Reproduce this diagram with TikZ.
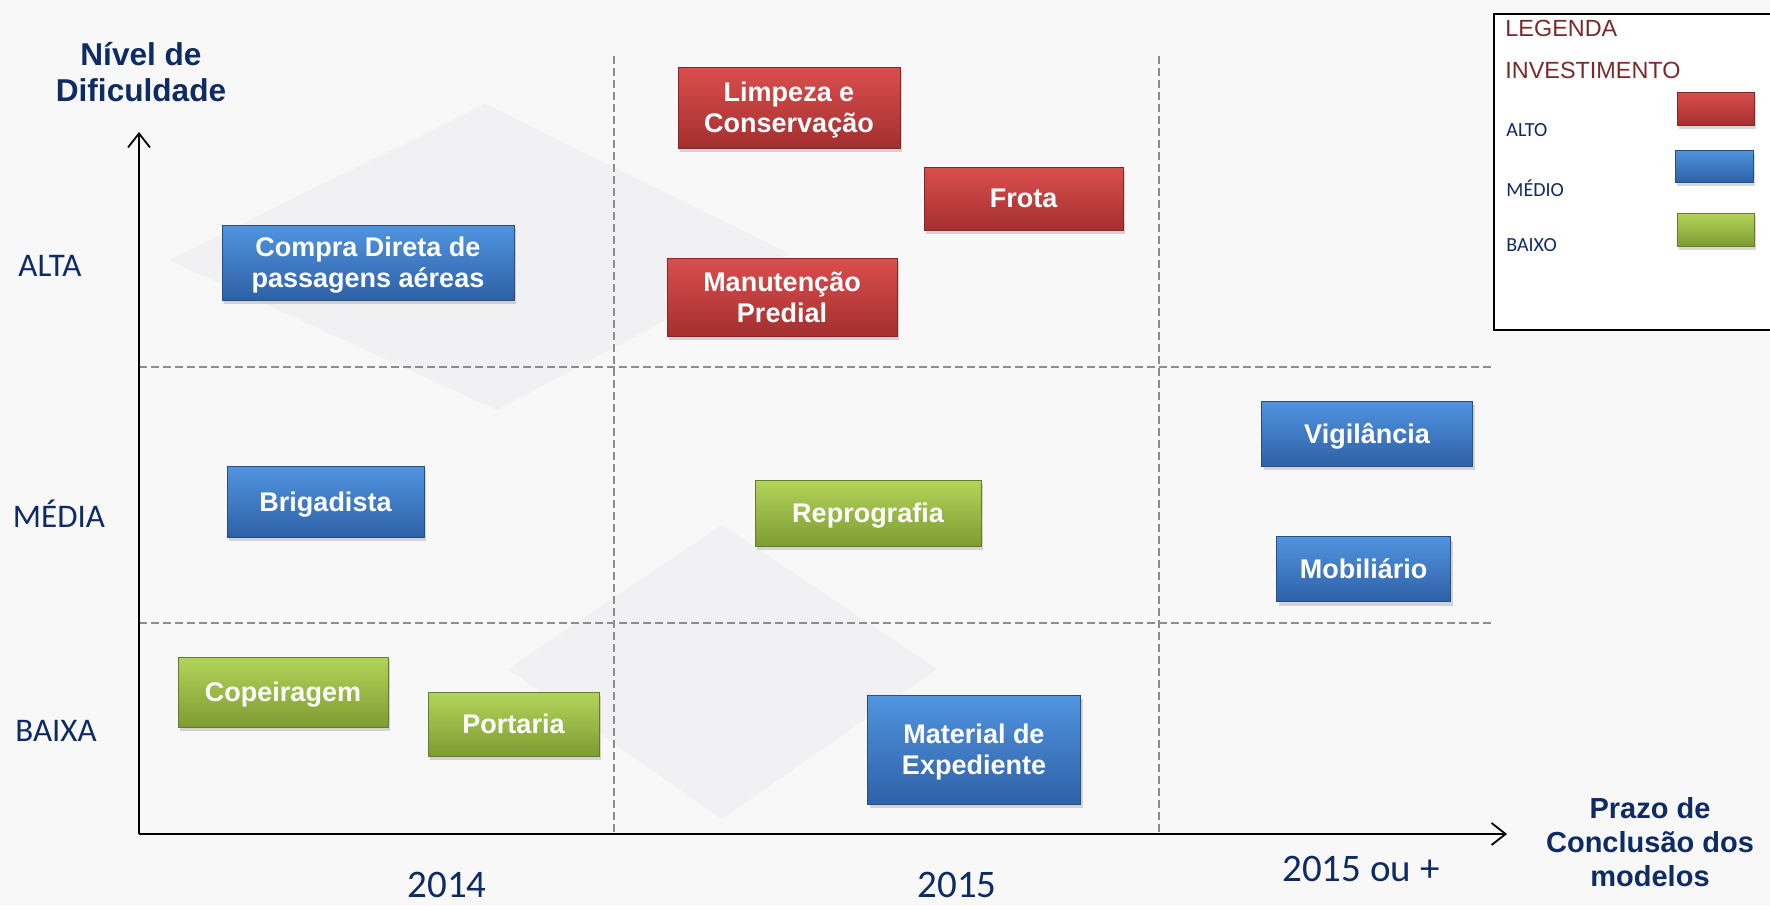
\documentclass[tikz,border=0pt]{standalone}
\usepackage{fontspec}
\setmainfont{Liberation Sans}
\newfontfamily\calibri{Carlito}
\usetikzlibrary{arrows.meta,shadows}

\definecolor{fundo}{HTML}{F8F8F9}
\definecolor{losango}{HTML}{F1F1F3}
\definecolor{marinho}{HTML}{0E2B63}
\definecolor{vinho}{HTML}{7A2A2A}
\definecolor{grade}{HTML}{8C8C8C}
\definecolor{vermA}{HTML}{DA4E4E}
\definecolor{vermB}{HTML}{C43C3C}
\definecolor{vermC}{HTML}{A52F2F}
\definecolor{azulA}{HTML}{5194E0}
\definecolor{azulB}{HTML}{3D7BCB}
\definecolor{azulC}{HTML}{2E61A6}
\definecolor{verdeA}{HTML}{B3D45A}
\definecolor{verdeB}{HTML}{9BBE45}
\definecolor{verdeC}{HTML}{7E9C33}

\begin{document}
\begin{tikzpicture}[
  x=0.5pt, y=-0.5pt,
  caixa/.style={rectangle, inner sep=0pt, align=center, text=white, text depth=0pt,
    font=\bfseries\fontsize{13.5}{15.5}\selectfont, line width=0.4pt,
    drop shadow={opacity=0.3, shadow xshift=1pt, shadow yshift=-2pt}},
  alto/.style={caixa, draw=vermC!80!black,
    top color=vermA, middle color=vermB, bottom color=vermC},
  medio/.style={caixa, draw=azulC!80!black,
    top color=azulA, middle color=azulB, bottom color=azulC},
  baixo/.style={caixa, draw=verdeC!80!black,
    top color=verdeA, middle color=verdeB, bottom color=verdeC},
  eixo/.style={line width=0.9pt, -{Straight Barb[length=7pt,width=11pt]}},
  corte/.style={draw=grade, line width=0.6pt, dash pattern=on 4pt off 2pt},
  nivel/.style={text=marinho, font=\calibri\fontsize{16.5}{18}\selectfont},
  ano/.style={text=marinho, font=\calibri\fontsize{19.5}{21}\selectfont},
  titulo/.style={text=marinho, align=center, font=\bfseries\fontsize{15.8}{18}\selectfont},
  leg/.style={anchor=west, inner sep=0pt}
]
\useasboundingbox (0,0) rectangle (1770,905);
\fill[fundo] (0,0) rectangle (1770,905);
% faint diamonds in the background
\fill[losango] (485,104) -- (790,254) -- (497,410) -- (169,260) -- cycle;
\fill[losango] (722,525) -- (937,669) -- (722,819) -- (508,669) -- cycle;

% grid
\draw[corte] (614,56) -- (614,834);
\draw[corte] (1159,56) -- (1159,834);
\draw[corte] (139,367) -- (1493,367);
\draw[corte] (139,623) -- (1493,623);

% axes
\coordinate (origem) at (139,834);
\coordinate (ytopo) at (139,132);
\coordinate (xfim) at (1507,834);
\draw[eixo] (origem) -- (ytopo);
\draw[eixo] (origem) -- (xfim);

\node[titulo] (dificuldade) at (141,72) {Nível de\\Dificuldade};
\node[titulo, font=\bfseries\fontsize{14.5}{17}\selectfont] (prazo) at (1650,842) {Prazo de\\Conclusão dos\\modelos};

\node[nivel] (alta) at (50,266) {ALTA};
\node[nivel] (media) at (59,514) {MÉDIA};
\node[nivel] (baixa) at (56,731) {BAIXA};
\node[ano] (a2014) at (447,885) {2014};
\node[ano] (a2015) at (957,885) {2015};
\node[ano] (a2016) at (1361,869) {2015 ou +};

% items
\node[medio, minimum width=146pt, minimum height=37.5pt] (compra) at (368,262.5) {Compra Direta de\\passagens aéreas};
\node[alto, minimum width=111pt, minimum height=40.5pt] (limpeza) at (789,107.5) {Limpeza e\\Conservação};
\node[alto, minimum width=99.5pt, minimum height=31.5pt] (frota) at (1023.5,198.5) {Frota};
\node[alto, minimum width=115pt, minimum height=39pt] (manutencao) at (782,297) {Manutenção\\Predial};
\node[medio, minimum width=98.5pt, minimum height=35.5pt] (brigadista) at (325.5,501.5) {Brigadista};
\node[baixo, minimum width=113pt, minimum height=33pt] (reprografia) at (868,513) {Reprografia};
\node[medio, minimum width=105.5pt, minimum height=32.5pt] (vigilancia) at (1367,433.5) {Vigilância};
\node[medio, minimum width=87pt, minimum height=32.5pt] (mobiliario) at (1363.5,569) {Mobiliário};
\node[baixo, minimum width=105pt, minimum height=35pt] (copeiragem) at (283,692) {Copeiragem};
\node[baixo, minimum width=85.5pt, minimum height=32pt] (portaria) at (513.5,724) {Portaria};
\node[medio, minimum width=106.5pt, minimum height=54.5pt] (material) at (974,749.5) {Material de\\Expediente};

% legend
\draw[line width=0.9pt, fill=white] (1494,14) rectangle (1800,330);
\node[leg, text=vinho, font=\fontsize{11.7}{13}\selectfont] (legenda) at (1505,28) {LEGENDA};
\node[leg, text=vinho, font=\fontsize{11.7}{13}\selectfont] (investimento) at (1505,70) {INVESTIMENTO};
\node[leg, text=marinho, font=\calibri\fontsize{10}{12}\selectfont] (lalto) at (1506,130) {ALTO};
\node[leg, text=marinho, font=\calibri\fontsize{10}{12}\selectfont] (lmedio) at (1506,188) {MÉDIO};
\node[leg, text=marinho, font=\calibri\fontsize{10}{12}\selectfont] (lbaixo) at (1506,245) {BAIXO};
\node[alto, minimum width=38.5pt, minimum height=16.5pt] (calto) at (1715.5,108.5) {};
\node[medio, minimum width=39pt, minimum height=16pt] (cmedio) at (1714,166) {};
\node[baixo, minimum width=38.5pt, minimum height=16.5pt] (cbaixo) at (1715.5,229.5) {};
\end{tikzpicture}
\end{document}
